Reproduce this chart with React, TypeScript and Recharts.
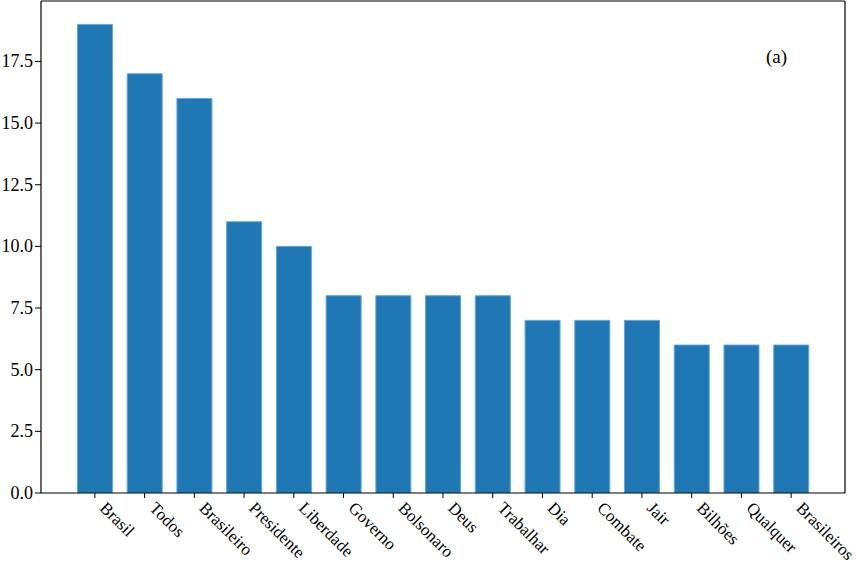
import React from "react";
import { BarChart, Bar, XAxis, YAxis } from "recharts";

const categories = ["Brasil", "Todos", "Brasileiro", "Presidente", "Liberdade", "Governo", "Bolsonaro", "Deus", "Trabalhar", "Dia", "Combate", "Jair", "Bilhões", "Qualquer", "Brasileiros"];
const counts = [19, 17, 16, 11, 10, 8, 8, 8, 8, 7, 7, 7, 6, 6, 6];
const yTicks = [0, 2.5, 5, 7.5, 10, 12.5, 15, 17.5];

const data = categories.map((c, i) => ({ name: c, value: counts[i] }));

const FONT = "'Liberation Serif', 'Times New Roman', serif";

const XTick = (props: any) => {
  const { x, y, payload } = props;
  return (
    <g transform={`translate(${x + 4},${y + 9}) rotate(45)`}>
      <text x={0} y={0} textAnchor="start" fontSize={17} fontFamily={FONT} fill="#000">
        {payload.value}
      </text>
    </g>
  );
};

const YTick = (props: any) => {
  const { x, y, payload } = props;
  return (
    <text x={x} y={y} dy={6} textAnchor="end" fontSize={18} fontFamily={FONT} fill="#000">
      {Number(payload.value).toFixed(1)}
    </text>
  );
};

export default function App() {
  return (
    <div style={{ position: "absolute", left: 0, top: 0, width: 859, height: 571, background: "#fff", fontFamily: FONT }}>
      <BarChart
        width={859}
        height={571}
        data={data}
        margin={{ top: 0, right: 13, bottom: 0, left: 0 }}
        barCategoryGap="15%"
      >
        <XAxis
          dataKey="name"
          interval={0}
          height={78}
          padding={{ left: 29, right: 29 }}
          tick={<XTick />}
          tickSize={5}
          tickMargin={2}
          axisLine={{ stroke: "#000", strokeWidth: 1.2 }}
          tickLine={{ stroke: "#000", strokeWidth: 1 }}
        />
        <XAxis
          xAxisId="top"
          dataKey="name"
          orientation="top"
          height={1}
          tick={false}
          tickLine={false}
          padding={{ left: 29, right: 29 }}
          axisLine={{ stroke: "#000", strokeWidth: 1.2 }}
        />
        <YAxis
          domain={[0, 19.95]}
          ticks={yTicks}
          width={41}
          tickSize={6}
          tickMargin={2}
          tick={<YTick />}
          axisLine={{ stroke: "#000", strokeWidth: 1.2 }}
          tickLine={{ stroke: "#000", strokeWidth: 1 }}
          allowDataOverflow
        />
        <YAxis
          yAxisId="right"
          orientation="right"
          domain={[0, 19.95]}
          width={1}
          tick={false}
          tickLine={false}
          axisLine={{ stroke: "#000", strokeWidth: 1.2 }}
        />
        <Bar dataKey="value" fill="#1f77b4" stroke="#5fa8e0" strokeWidth={1} isAnimationActive={false} />
      </BarChart>
      <div
        style={{
          position: "absolute",
          left: 766,
          top: 46,
          fontFamily: FONT,
          fontSize: 19,
          lineHeight: "22px",
          color: "#000",
        }}
      >
        (a)
      </div>
    </div>
  );
}
